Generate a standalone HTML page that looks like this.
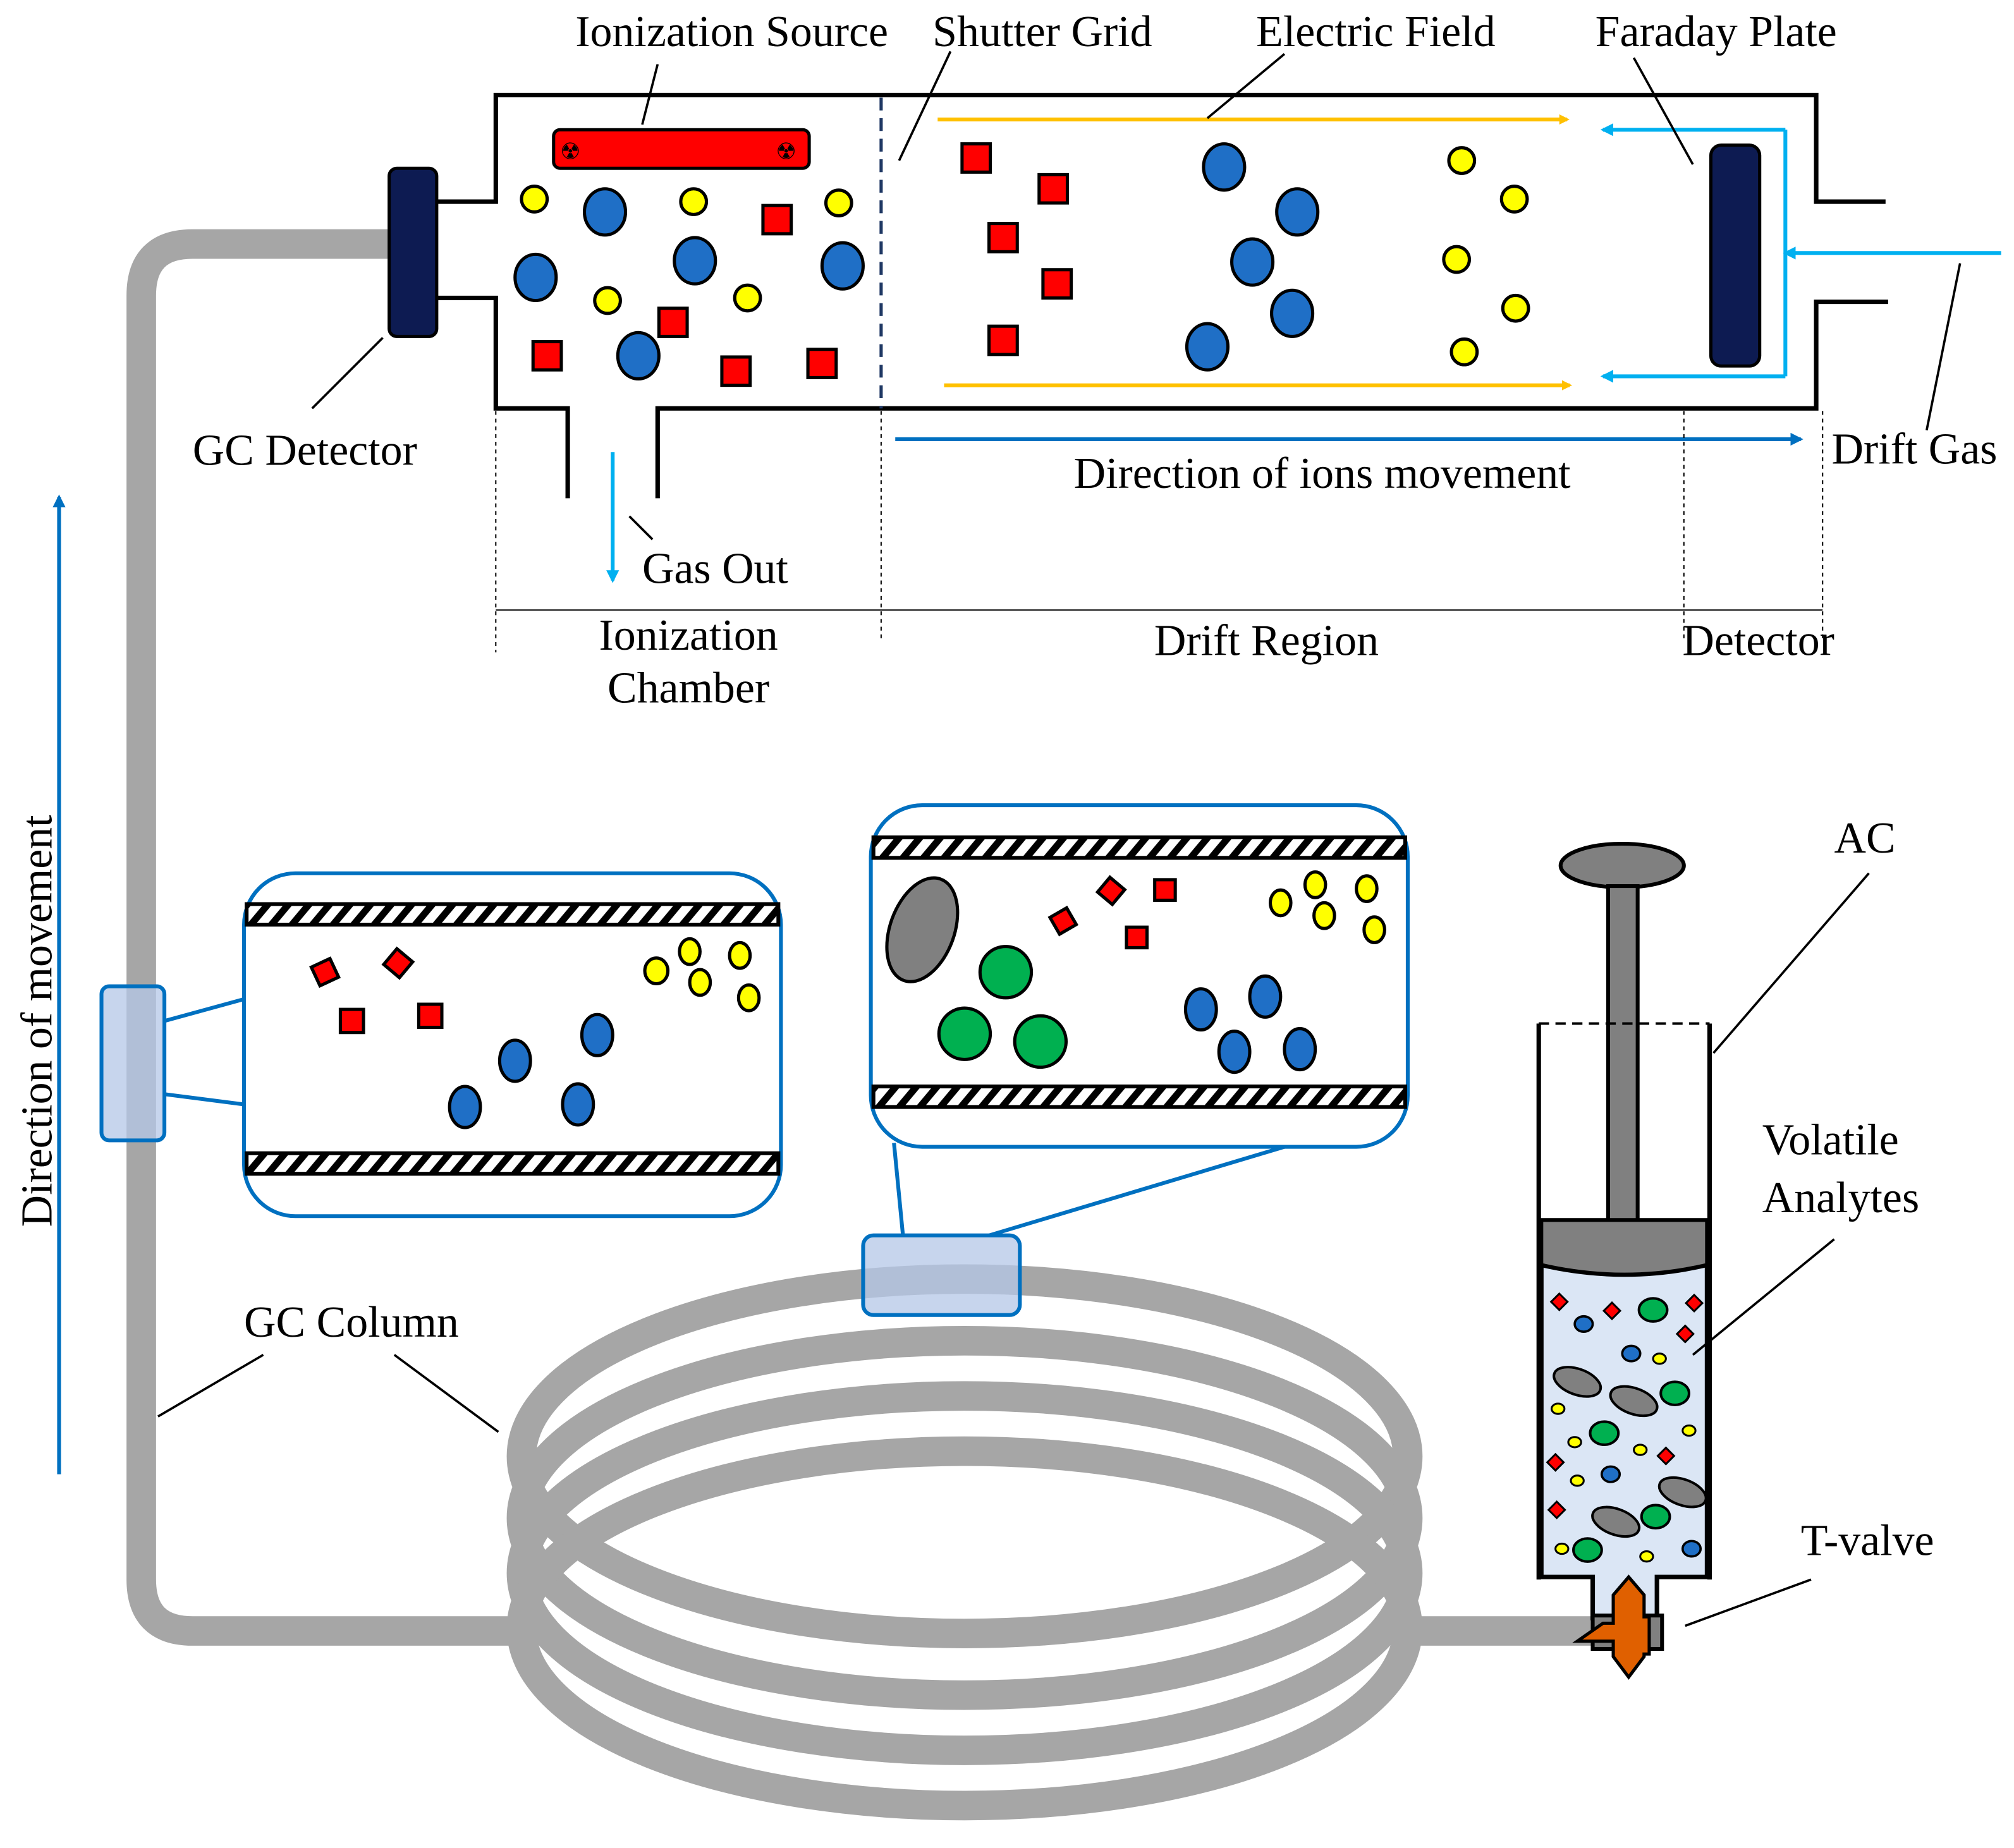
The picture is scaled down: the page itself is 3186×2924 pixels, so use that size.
<!DOCTYPE html>
<html><head><meta charset="utf-8"><style>
html,body{margin:0;padding:0;background:#fff}
svg{display:block}
text{font-family:"Liberation Serif",serif;font-size:34.4px;fill:#000}
</style></head><body>
<svg width="3186" height="2924" viewBox="0 0 1568 1439" xmlns="http://www.w3.org/2000/svg">
<defs>
<pattern id="h" width="16" height="16" patternUnits="userSpaceOnUse" patternTransform="skewX(-40)">
<rect width="16" height="16" fill="#000"/><rect x="3" width="9" height="16" fill="#fff"/>
</pattern>
<marker id="ay" markerWidth="8" markerHeight="8" refX="6" refY="4" orient="auto" markerUnits="userSpaceOnUse"><path d="M0,0L8,4L0,8z" fill="#ffc000"/></marker>
<marker id="ab" markerWidth="10" markerHeight="10" refX="8" refY="5" orient="auto" markerUnits="userSpaceOnUse"><path d="M0,0L10,5L0,10z" fill="#0070c0"/></marker>
<marker id="al" markerWidth="10" markerHeight="10" refX="8" refY="5" orient="auto" markerUnits="userSpaceOnUse"><path d="M0,0L10,5L0,10z" fill="#00b0f0"/></marker>
</defs>

<!-- GC column coils -->
<g fill="none" stroke="#a6a6a6" stroke-width="23">
<ellipse cx="751" cy="1134" rx="345" ry="138"/>
<ellipse cx="751" cy="1182" rx="345" ry="138"/>
<ellipse cx="751" cy="1225" rx="345" ry="138"/>
<ellipse cx="751" cy="1268" rx="345" ry="138"/>
<path d="M408,1270 H150 Q110,1270 110,1230 V230 Q110,190 150,190 H305"/>
<path d="M1094,1270 H1240"/>
</g>
<rect x="672" y="962" width="122" height="62" rx="8" fill="#b4c7e7" fill-opacity="0.75" stroke="#0070c0" stroke-width="3"/>
<rect x="79" y="768" width="49" height="120" rx="6" fill="#b4c7e7" fill-opacity="0.75" stroke="#0070c0" stroke-width="3"/>
<line x1="128" y1="795" x2="190" y2="778" stroke="#0070c0" stroke-width="3"/>
<line x1="128" y1="852" x2="190" y2="860" stroke="#0070c0" stroke-width="3"/>
<line x1="703" y1="962" x2="696" y2="890" stroke="#0070c0" stroke-width="3"/>
<line x1="770" y1="962" x2="1000" y2="893" stroke="#0070c0" stroke-width="3"/>

<!-- Inset 1 -->
<rect x="190" y="680" width="418" height="267" rx="40" fill="#fff" stroke="#0070c0" stroke-width="3"/>
<rect x="192" y="704" width="414" height="16" fill="url(#h)" stroke="#000" stroke-width="3"/>
<rect x="192" y="898" width="414" height="16" fill="url(#h)" stroke="#000" stroke-width="3"/>
<g stroke="#000" stroke-width="2.5" fill="#ff0000">
<rect x="245" y="749" width="16" height="16" transform="rotate(-25 253 757)"/>
<rect x="302" y="742" width="16" height="16" transform="rotate(40 310 750)"/>
<rect x="265" y="786" width="18" height="18"/>
<rect x="326" y="782" width="18" height="18"/>
</g>
<g stroke="#000" stroke-width="2.5" fill="#1f6fc6">
<ellipse cx="401" cy="826" rx="12" ry="16"/><ellipse cx="465" cy="806" rx="12" ry="16"/>
<ellipse cx="362" cy="862" rx="12" ry="16"/><ellipse cx="450" cy="860" rx="12" ry="16"/>
</g>
<g stroke="#000" stroke-width="2.5" fill="#ffff00">
<ellipse cx="511" cy="756" rx="9" ry="10"/><ellipse cx="537" cy="741" rx="8" ry="10"/>
<ellipse cx="545" cy="765" rx="8" ry="10"/><ellipse cx="576" cy="744" rx="8" ry="10"/>
<ellipse cx="583" cy="777" rx="8" ry="10"/>
</g>

<!-- Inset 2 -->
<rect x="678" y="627" width="418" height="266" rx="40" fill="#fff" stroke="#0070c0" stroke-width="3"/>
<rect x="680" y="652" width="414" height="16" fill="url(#h)" stroke="#000" stroke-width="3"/>
<rect x="680" y="846" width="414" height="16" fill="url(#h)" stroke="#000" stroke-width="3"/>
<ellipse cx="718" cy="724" rx="25" ry="42" transform="rotate(20 718 724)" fill="#808080" stroke="#000" stroke-width="2.5"/>
<g stroke="#000" stroke-width="2.5" fill="#00b050">
<circle cx="783" cy="757" r="20"/><circle cx="751" cy="805" r="20"/><circle cx="810" cy="811" r="20"/>
</g>
<g stroke="#000" stroke-width="2.5" fill="#ff0000">
<rect x="858" y="686" width="15" height="15" transform="rotate(40 865 693)"/>
<rect x="899" y="685" width="16" height="16"/>
<rect x="820" y="710" width="15" height="15" transform="rotate(-30 827 717)"/>
<rect x="877" y="722" width="16" height="16"/>
</g>
<g stroke="#000" stroke-width="2.5" fill="#1f6fc6">
<ellipse cx="935" cy="786" rx="12" ry="16"/><ellipse cx="985" cy="776" rx="12" ry="16"/>
<ellipse cx="961" cy="819" rx="12" ry="16"/><ellipse cx="1012" cy="817" rx="12" ry="16"/>
</g>
<g stroke="#000" stroke-width="2.5" fill="#ffff00">
<ellipse cx="997" cy="703" rx="8" ry="10"/><ellipse cx="1024" cy="689" rx="8" ry="10"/>
<ellipse cx="1031" cy="713" rx="8" ry="10"/><ellipse cx="1064" cy="692" rx="8" ry="10"/>
<ellipse cx="1070" cy="724" rx="8" ry="10"/>
</g>

<!-- Syringe -->
<ellipse cx="1263" cy="674" rx="48" ry="17" fill="#808080" stroke="#000" stroke-width="3"/>
<rect x="1252" y="690" width="23" height="262" fill="#808080" stroke="#000" stroke-width="3"/>
<path d="M1198,1230 V797 M1331,797 V1230" stroke="#000" stroke-width="3.5" fill="none"/>
<line x1="1198" y1="797" x2="1331" y2="797" stroke="#000" stroke-width="2" stroke-dasharray="8,5"/>
<path d="M1200,985 Q1265,1000 1329,985 V1228 H1290 V1260 H1240 V1228 H1200 Z" fill="#dbe6f5" stroke="#000" stroke-width="3.5"/>
<path d="M1200,950 H1329 V985 Q1265,1000 1200,985 Z" fill="#808080" stroke="#000" stroke-width="3"/>
<g stroke="#000" stroke-width="2" fill="#808080">
<ellipse cx="1228" cy="1076" rx="19" ry="10" transform="rotate(20 1228 1076)"/>
<ellipse cx="1272" cy="1091" rx="19" ry="10" transform="rotate(20 1272 1091)"/>
<ellipse cx="1310" cy="1162" rx="19" ry="10" transform="rotate(20 1310 1162)"/>
<ellipse cx="1258" cy="1185" rx="19" ry="10" transform="rotate(20 1258 1185)"/>
</g>
<g stroke="#000" stroke-width="2" fill="#00b050">
<ellipse cx="1287" cy="1020" rx="11" ry="9"/><ellipse cx="1304" cy="1085" rx="11" ry="9"/>
<ellipse cx="1249" cy="1116" rx="11" ry="9"/><ellipse cx="1289" cy="1181" rx="11" ry="9"/>
<ellipse cx="1236" cy="1207" rx="11" ry="9"/>
</g>
<g stroke="#000" stroke-width="1.8" fill="#1f6fc6">
<ellipse cx="1233" cy="1031" rx="7" ry="6"/><ellipse cx="1270" cy="1054" rx="7" ry="6"/>
<ellipse cx="1254" cy="1148" rx="7" ry="6"/><ellipse cx="1317" cy="1206" rx="7" ry="6"/>
</g>
<g stroke="#000" stroke-width="1.5" fill="#ffff00">
<ellipse cx="1292" cy="1058" rx="5" ry="4"/><ellipse cx="1213" cy="1097" rx="5" ry="4"/>
<ellipse cx="1226" cy="1123" rx="5" ry="4"/><ellipse cx="1277" cy="1129" rx="5" ry="4"/>
<ellipse cx="1315" cy="1114" rx="5" ry="4"/><ellipse cx="1228" cy="1153" rx="5" ry="4"/>
<ellipse cx="1216" cy="1206" rx="5" ry="4"/><ellipse cx="1282" cy="1212" rx="5" ry="4"/>
</g>
<g stroke="#000" stroke-width="1.5" fill="#ff0000">
<rect x="1210" y="1009" width="9" height="9" transform="rotate(45 1214 1013)"/>
<rect x="1251" y="1016" width="9" height="9" transform="rotate(45 1255 1020)"/>
<rect x="1315" y="1010" width="9" height="9" transform="rotate(45 1319 1014)"/>
<rect x="1308" y="1034" width="9" height="9" transform="rotate(45 1312 1038)"/>
<rect x="1207" y="1134" width="9" height="9" transform="rotate(45 1211 1138)"/>
<rect x="1293" y="1129" width="9" height="9" transform="rotate(45 1297 1133)"/>
<rect x="1208" y="1171" width="9" height="9" transform="rotate(45 1212 1175)"/>
</g>
<!-- T-valve -->
<rect x="1240" y="1258" width="54" height="26" fill="#808080" stroke="#000" stroke-width="3"/>
<path d="M1268,1228 L1280,1242 V1259 H1284 V1288 H1280 V1290 L1268,1306 L1256,1290 V1278 H1228 L1248,1264 H1256 V1242 Z" fill="#e06000" stroke="#000" stroke-width="2.5"/>

<!-- IMS tube -->
<g stroke="#000" stroke-width="3.5" fill="none">
<path d="M333,157 H386 V74 H1414 V157 H1468"/>
<path d="M333,232 H386 V318 H442 V388"/>
<path d="M512,388 V318 H1414 V235 H1470"/>
</g>
<rect x="303" y="131" width="37" height="131" rx="6" fill="#0d1b52" stroke="#000" stroke-width="2.5"/>
<line x1="686" y1="76" x2="686" y2="318" stroke="#1f3864" stroke-width="2.5" stroke-dasharray="10,6"/>
<rect x="431" y="101" width="199" height="30" rx="5" fill="#ff0000" stroke="#000" stroke-width="2.5"/>
<text x="436" y="124" style="font-size:18px">☢</text><text x="604" y="124" style="font-size:18px">☢</text>
<line x1="730" y1="93" x2="1220" y2="93" stroke="#ffc000" stroke-width="3" marker-end="url(#ay)"/>
<line x1="735" y1="300" x2="1222" y2="300" stroke="#ffc000" stroke-width="3" marker-end="url(#ay)"/>
<rect x="1332" y="113" width="38" height="172" rx="8" fill="#0d1b52" stroke="#000" stroke-width="2.5"/>
<g stroke="#00b0f0" stroke-width="3" fill="none">
<line x1="1558" y1="197" x2="1390" y2="197" marker-end="url(#al)"/>
<path d="M1390,101 V293"/>
<line x1="1390" y1="101" x2="1248" y2="101" marker-end="url(#al)"/>
<line x1="1390" y1="293" x2="1248" y2="293" marker-end="url(#al)"/>
<line x1="477" y1="352" x2="477" y2="452" marker-end="url(#al)"/>
</g>
<line x1="697" y1="342" x2="1402" y2="342" stroke="#0070c0" stroke-width="3" marker-end="url(#ab)"/>
<line x1="46" y1="1148" x2="46" y2="387" stroke="#0070c0" stroke-width="3" marker-end="url(#ab)"/>

<!-- ions in IMS -->
<g stroke="#000" stroke-width="2.5" fill="#ffff00">
<circle cx="416" cy="155" r="10"/><circle cx="540" cy="157" r="10"/><circle cx="653" cy="158" r="10"/>
<circle cx="473" cy="234" r="10"/><circle cx="582" cy="232" r="10"/>
<circle cx="1138" cy="125" r="10"/><circle cx="1179" cy="155" r="10"/><circle cx="1134" cy="202" r="10"/>
<circle cx="1180" cy="240" r="10"/><circle cx="1140" cy="274" r="10"/>
</g>
<g stroke="#000" stroke-width="2.5" fill="#1f6fc6">
<ellipse cx="471" cy="165" rx="16" ry="18"/><ellipse cx="417" cy="216" rx="16" ry="18"/>
<ellipse cx="541" cy="203" rx="16" ry="18"/><ellipse cx="656" cy="207" rx="16" ry="18"/>
<ellipse cx="497" cy="277" rx="16" ry="18"/>
<ellipse cx="953" cy="130" rx="16" ry="18"/><ellipse cx="1010" cy="165" rx="16" ry="18"/>
<ellipse cx="975" cy="204" rx="16" ry="18"/><ellipse cx="1006" cy="244" rx="16" ry="18"/>
<ellipse cx="940" cy="270" rx="16" ry="18"/>
</g>
<g stroke="#000" stroke-width="2.5" fill="#ff0000">
<rect x="594" y="160" width="22" height="22"/><rect x="513" y="240" width="22" height="22"/>
<rect x="415" y="266" width="22" height="22"/><rect x="562" y="278" width="22" height="22"/>
<rect x="629" y="272" width="22" height="22"/>
<rect x="749" y="112" width="22" height="22"/><rect x="809" y="136" width="22" height="22"/>
<rect x="770" y="174" width="22" height="22"/><rect x="812" y="210" width="22" height="22"/>
<rect x="770" y="254" width="22" height="22"/>
</g>

<!-- dimension lines -->
<g stroke="#000" stroke-width="1" stroke-dasharray="3,3">
<line x1="386" y1="320" x2="386" y2="508"/><line x1="686" y1="320" x2="686" y2="500"/>
<line x1="1311" y1="320" x2="1311" y2="500"/><line x1="1419" y1="320" x2="1419" y2="500"/>
</g>
<line x1="386" y1="475" x2="1419" y2="475" stroke="#000" stroke-width="1"/>

<!-- leader lines -->
<g stroke="#000" stroke-width="1.8">
<line x1="512" y1="50" x2="500" y2="97"/>
<line x1="740" y1="40" x2="700" y2="125"/>
<line x1="1000" y1="42" x2="940" y2="92"/>
<line x1="1272" y1="45" x2="1318" y2="128"/>
<line x1="1526" y1="205" x2="1500" y2="335"/>
<line x1="298" y1="263" x2="243" y2="318"/>
<line x1="490" y1="402" x2="508" y2="420"/>
<line x1="1455" y1="680" x2="1334" y2="820"/>
<line x1="1428" y1="965" x2="1318" y2="1055"/>
<line x1="1410" y1="1230" x2="1312" y2="1266"/>
<line x1="205" y1="1055" x2="123" y2="1103"/>
<line x1="307" y1="1055" x2="388" y2="1115"/>
</g>

<!-- labels -->
<text x="448" y="36">Ionization Source</text>
<text x="726" y="36">Shutter Grid</text>
<text x="978" y="36">Electric Field</text>
<text x="1242" y="36">Faraday Plate</text>
<text x="150" y="362">GC Detector</text>
<text x="1426" y="361">Drift Gas</text>
<text x="836" y="380">Direction of ions movement</text>
<text x="500" y="454">Gas Out</text>
<text x="536" y="506" text-anchor="middle">Ionization</text>
<text x="536" y="547" text-anchor="middle">Chamber</text>
<text x="986" y="510" text-anchor="middle">Drift Region</text>
<text x="1369" y="510" text-anchor="middle">Detector</text>
<text x="1428" y="664">AC</text>
<text x="1372" y="899">Volatile</text>
<text x="1372" y="944">Analytes</text>
<text x="1402" y="1211">T-valve</text>
<text x="190" y="1041">GC Column</text>
<text transform="translate(40,795) rotate(-90)" text-anchor="middle">Direction of movement</text>
</svg>
</body></html>
